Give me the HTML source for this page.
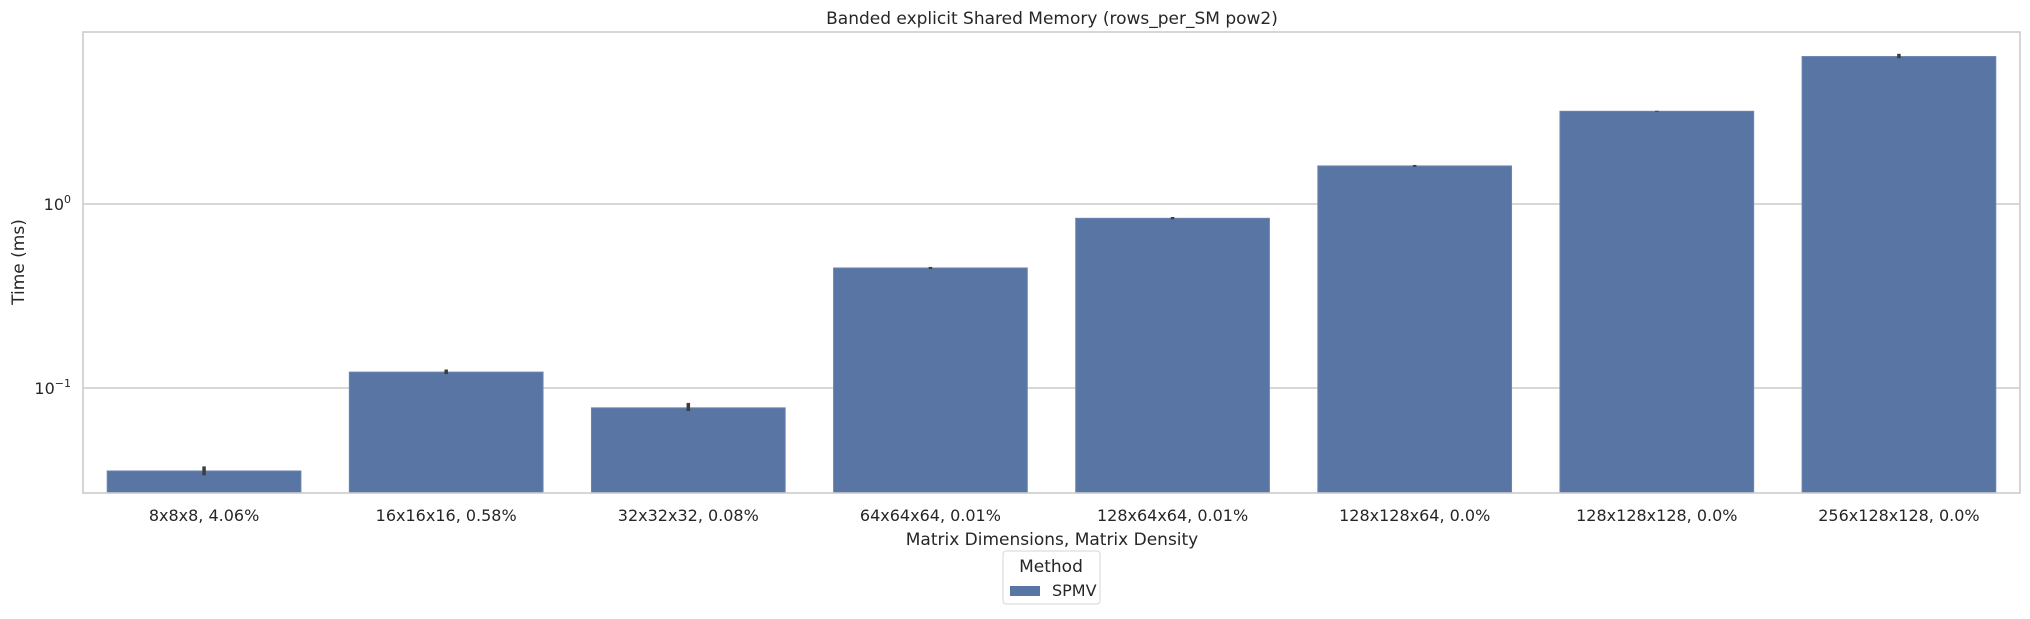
<!DOCTYPE html>
<html><head><meta charset="utf-8"><style>
body{margin:0;background:#fff;}
svg text{font-family:"DejaVu Sans","Liberation Sans",sans-serif;fill:#262626;}
</style></head><body>
<svg id="chart" width="2030" height="614" xmlns="http://www.w3.org/2000/svg">
<text x="1052" y="24" text-anchor="middle" font-size="17">Banded explicit Shared Memory (rows_per_SM pow2)</text>
<g id="grid"></g>
<g id="bars"></g>
<rect x="83" y="32" width="1937" height="461" fill="none" stroke="#cccccc" stroke-width="1.6"/>
<g id="yticks"></g>
<g id="xticks"></g>
<text x="1052" y="545" text-anchor="middle" font-size="17">Matrix Dimensions, Matrix Density</text>
<text transform="translate(24,262) rotate(-90)" text-anchor="middle" font-size="17">Time (ms)</text>
<g>
<rect x="1003" y="551" width="97" height="53" rx="3" fill="#fff" stroke="#d6d6d6"/>
<text x="1051" y="572" text-anchor="middle" font-size="17">Method</text>
<rect x="1010" y="586" width="30" height="10" fill="#5975a4"/>
<text x="1052" y="596" font-size="16">SPMV</text>
</g>
</svg>
<script>
const categories=["8x8x8, 4.06%","16x16x16, 0.58%","32x32x32, 0.08%","64x64x64, 0.01%","128x64x64, 0.01%","128x128x64, 0.0%","128x128x128, 0.0%","256x128x128, 0.0%"];
const values=[0.0354,0.122,0.078,0.449,0.836,1.61,3.19,6.33];
const errLow=[0.0335,0.119,0.075,0.444,0.826,1.595,3.17,6.20];
const errHigh=[0.0375,0.126,0.083,0.455,0.85,1.63,3.21,6.55];
const yTickExps=[-1,0];
const NS="http://www.w3.org/2000/svg";
const L=83,R=2020,T=32,B=493;
const y0=204,dec=184;
function y(v){return y0-Math.log10(v)*dec;}
function x(i){return L+(R-L)/categories.length*(i+0.5);}
const bw=(R-L)/categories.length*0.8;
function mk(tag,attrs,parent){const e=document.createElementNS(NS,tag);for(const k in attrs)e.setAttribute(k,attrs[k]);parent.appendChild(e);return e;}
const grid=document.getElementById('grid'),bars=document.getElementById('bars'),yt=document.getElementById('yticks'),xt=document.getElementById('xticks');
yTickExps.forEach(p=>{
 const yy=y(Math.pow(10,p));
 const g=mk('line',{x1:L,x2:R,y1:yy,y2:yy,stroke:'#cccccc','stroke-width':1.6},grid);
 
 
 const t=mk('text',{x:L-12,y:yy+6,'text-anchor':'end','font-size':16},yt);
 
 
 t.innerHTML='10<tspan dy="-7" font-size="11">'+(p<0?'\u2212'+(-p):p)+'</tspan>';
});
categories.forEach((c,i)=>{
 const cx=x(i),top=y(values[i]);
 const r=mk('rect',{x:cx-bw/2,y:top,width:bw,height:B-top,fill:'#5975a4',stroke:'#6a84b0','stroke-width':1},bars);
 
 
 const e=mk('line',{x1:cx,x2:cx,y1:y(errHigh[i]),y2:y(errLow[i]),stroke:'#3d3d3d','stroke-width':3.5},bars);
 
 
 const t=mk('text',{x:cx,y:521,'text-anchor':'middle','font-size':16},xt);
 
 
 t.textContent=c;
});
</script>
</body></html>
